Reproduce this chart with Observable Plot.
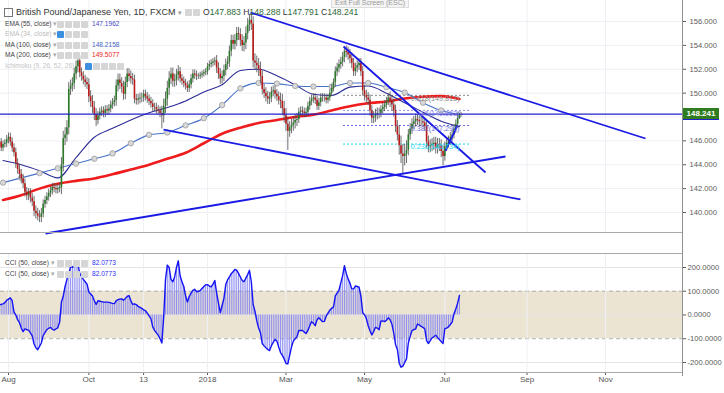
<!DOCTYPE html>
<html><head><meta charset="utf-8">
<script src="https://cdn.jsdelivr.net/npm/d3@7"></script>
<script src="https://cdn.jsdelivr.net/npm/@observablehq/plot@0.6"></script>
<style>
body{margin:0;background:#fff;font-family:"Liberation Sans",Arial,sans-serif;}
#wrap{position:relative;width:724px;height:393px;overflow:hidden;background:#fff;}
.abs{position:absolute;white-space:nowrap;}
.ic{display:inline-block;width:7px;height:7px;background:#d6d6d6;margin-right:1px;vertical-align:middle;border-radius:1px;}
.ic.b{background:#3d8fe0;}
.n{display:inline-block;width:52px;}
.v{margin-left:3px;}
</style></head><body>
<div id="wrap">
  <div id="main" class="abs" style="left:0;top:0"></div>
  <div id="cci" class="abs" style="left:0;top:253px"></div>
</div>
<script>
// ---------------- DATA ----------------
// daily closes, one per trading day starting Mon 2017-07-24 (weekly groups of 5)
const closes = [
145.6,145.9,145.4,145.7,145.8, 146.1,146.3,145.9,145.4,145.0, 144.1,143.6,143.2,142.8,142.4,
141.7,141.4,141.6,141.2,140.9, 140.1,139.9,139.7,139.6,139.9, 140.7,141.0,141.3,141.6,141.8,
142.1,142.0,141.9,142.0,142.1, 144.0,146.2,146.5,147.1,150.3, 150.6,150.8,151.6,152.2,152.7,
151.7,151.4,151.1,150.9,150.7, 149.7,149.3,148.8,148.2,147.7, 148.1,148.4,148.5,148.3,148.6,
148.5,148.7,149.0,149.2,149.4, 150.6,151.1,150.8,150.5,149.9, 150.9,151.6,151.4,151.2,151.1,
149.5,149.4,149.5,149.6,149.6, 149.9,149.7,149.5,149.3,149.1, 148.8,148.8,148.6,148.5,148.3,
148.1,148.9,149.5,150.4,151.2, 151.6,151.0,151.1,151.5,151.8, 151.2,151.0,150.8,150.6,150.4,
150.7,151.2,151.6,151.5,151.4, 151.4,151.5,151.6,151.7,151.8, 152.2,152.4,152.5,152.6,152.7,
152.1,151.6,151.2,151.4,151.9, 152.4,152.6,153.5,154.4,154.1, 154.4,155.0,154.9,154.4,154.0,
154.2,155.0,155.7,156.1,155.8, 152.7,152.5,152.3,152.0,151.4, 150.3,150.0,149.7,149.5,149.6,
150.1,150.2,149.9,149.7,149.4, 149.3,148.7,148.1,147.4,146.8, 147.1,147.3,147.5,147.7,147.8,
148.4,148.5,148.4,148.3,148.4, 148.9,149.3,149.5,149.6,149.4, 148.9,149.2,149.6,149.6,149.6,
149.4,149.6,150.0,150.4,150.9, 151.8,152.1,152.4,152.6,153.0, 153.5,153.4,153.2,152.9,152.5,
151.8,152.1,152.3,152.5,151.8, 150.2,149.8,149.6,149.4,148.5, 147.9,148.0,148.2,148.3,148.3,
148.6,148.8,149.0,149.3,149.6, 149.3,149.0,148.5,147.2,146.5, 145.6,144.9,144.7,144.9,145.2,
146.5,147.0,147.4,147.6,147.8, 147.7,147.6,147.6,147.5,147.2, 145.9,145.5,145.6,145.7,145.8,
145.4,145.7,145.6,145.1,144.7, 145.5,145.8,146.0,146.3,146.5, 147.0,147.4,147.883,148.241
];
const firstOpen = 145.5;
// typical wick length per week
const weeklyWick = [0.3,0.35,0.4,0.4,0.45,0.35,0.35,0.6,0.5,0.4,0.5,0.35,0.35,0.5,0.45,0.4,0.35,0.35,0.6,0.5,
0.35,0.35,0.25,0.3,0.45,0.45,0.5,0.55,0.6,0.45,0.4,0.6,0.5,0.35,0.35,0.35,0.3,0.4,0.45,0.4,
0.45,0.45,0.35,0.5,0.8,0.45,0.4,0.5,0.5,0.4,0.35];
// notable extreme highs / lows (bar index)
const extremeHighs = [{i:44, high:152.9}, {i:138, high:156.6}, {i:190, high:153.85}];
const extremeLows = [{i:22, low:139.3}, {i:90, low:147.0}, {i:159, low:145.2}, {i:222, low:143.2}, {i:244, low:143.9}];
const lastBar = {open:147.883, high:148.288, low:147.791, close:148.241};

// CCI(50) per trading day
const cciValues = [
40,42,45,47,52, 62,67,72,60,12, 0,-20,-32,-55,-70, -58,-62,-64,-75,-88, -122,-138,-146,-132,-118,
-86,-74,-62,-56,-52, -60,-64,-58,-54,-30, 55,80,120,150,170, 205,200,210,222,215, 175,162,150,140,130,
98,88,80,60,45, 60,58,56,54,54, 54,53,51,49,48, 60,65,67,68,62, 70,78,82,60,45,
47,44,36,32,28, 22,18,8,-4,-15, -50,-65,-75,-85,-100, -118,-9,150,210,200, 150,140,160,200,228,
165,140,120,80,55, 78,92,104,108,98, 100,103,112,120,127, 128,122,118,130,145, 92,50,10,40,70,
128,148,160,174,182, 192,188,175,160,145, 140,155,170,188,140, 45,15,-25,-55,-75, -120,-130,-138,-145,-150,
-129,-115,-103,-110,-135, -158,-170,-185,-204,-206, -170,-135,-110,-100,-92, -65,-65,-65,-72,-78, -65,-45,-28,-35,-45,
-20,-12,-20,-28,-27, -5,8,20,28,34, 80,92,104,135,165, 208,175,152,135,110, 110,122,120,117,80,
10,1,-15,-45,-66, -84,-70,-52,-55,-62, -25,-25,-28,-22,-12, -20,-38,-75,-125,-145, -203,-220,-215,-200,-185,
-118,-90,-66,-62,-59, -38,-42,-48,-52,-58, -108,-120,-108,-96,-92, -85,-95,-103,-112,-120, -57,-55,-50,-40,-30,
5,25,50,82.0773
];

// moving averages read every 10 trading days (bar 3, 13, 23, ...)
const maFirstBar = 3, maStep = 10;
const ema55 = [144.35,144.0,143.5,142.9,144.6,146.3,147.05,147.75,148.35,148.8,149.35,150.1,150.7,151.9,152.0,151.45,150.7,149.9,149.8,150.5,150.6,150.0,149.2,148.4,147.65,147.1962];
const ma100 = [142.5,142.9,143.3,143.7,144.1,144.5,144.95,145.8,146.5,146.7,147.3,147.9,149.0,150.4,150.85,150.8,150.6,150.55,150.55,150.85,150.85,150.5,150.05,149.2,148.55,148.2158];
const ma200 = [141.05,141.45,142.0,142.4,142.65,142.85,143.2,143.6,144.0,144.5,145.0,145.8,146.6,147.1,147.5,147.75,148.0,148.2,148.55,148.9,149.15,149.3,149.55,149.7,149.75,149.5077];

// drawn trend lines (bar index, price)
const trendLines = [
  {i1:138.55, p1:156.75, i2:354.9, p2:146.20},
  {i1:189.5, p1:153.91, i2:267.3, p2:143.35},
  {i1:90.9, p1:146.95, i2:286.4, p2:141.09},
  {i1:26.3, p1:138.24, i2:278.2, p2:144.69},
  {i1:245.4, p1:145.19, i2:251.9, p2:147.29}
];
const lastPrice = 148.241;
const fibStart = 189.5, fibEnd = 259, fibLabelAt = 253;
const fibs = [
  {level:"0.618", value:149.813, color:"#8a8a8a"},
  {level:"0.5", value:148.553, color:"#8f8fe8"},
  {level:"0.382", value:147.290, color:"#6a6ad8"},
  {level:"0.236", value:145.734, color:"#1ad5f2"}
];
const priceGrid = [140,142,144,146,148,150,152,154,156];
const priceLabels = [140,142,144,146,150,152,154,156];
const cciTicks = [200,100,0,-100,-200];
const monthTicks = [
  {i:6,label:"Aug"},{i:50,label:"Oct"},{i:80,label:"13"},{i:115,label:"2018"},{i:158,label:"Mar"},
  {i:201,label:"May"},{i:245,label:"Jul"},{i:290,label:"Sep"},{i:333,label:"Nov"}
];

// ---------------- BUILD ----------------
const hiMap = new Map(extremeHighs.map(d => [d.i, d.high]));
const loMap = new Map(extremeLows.map(d => [d.i, d.low]));
const bars = closes.map((c, i) => {
  if (i === closes.length - 1) return {i, ...lastBar};
  const o = i === 0 ? firstOpen : closes[i - 1];
  const w = weeklyWick[Math.floor(i / 5)];
  return {i, open:o, close:c,
    high: hiMap.has(i) ? hiMap.get(i) : Math.max(o, c) + w,
    low: loMap.has(i) ? loMap.get(i) : Math.min(o, c) - w};
});
const maPts = ema55.map((v, n) => ({i: maFirstBar + n * maStep, ema55: v, ma100: ma100[n], ma200: ma200[n]}));
const cciPts = cciValues.map((v, i) => ({i, v}));

const X0 = 1.6158, X1 = 375.17;
const font = "Liberation Sans, Arial, sans-serif";

const main = Plot.plot({
  width: 724, height: 233, marginLeft: 0, marginRight: 42, marginTop: 0, marginBottom: 0,
  style: {fontFamily: font, fontSize: "7.6px", color: "#5a5a5a", background: "transparent", overflow: "visible"},
  x: {domain: [X0, X1], axis: null},
  y: {domain: [138.24, 157.76], axis: "right", ticks: priceLabels, tickFormat: d => d.toFixed(3), tickSize: 3, tickPadding: 4, label: null},
  color: {type: "identity"},
  marks: [
    Plot.ruleY(priceGrid, {stroke: "#eef0f5"}),
    Plot.ruleX(monthTicks, {x: "i", stroke: "#eef0f5"}),
    Plot.ruleY(fibs, {y: "value", x1: () => fibStart, x2: () => fibEnd, stroke: "color", strokeDasharray: "2,2", strokeWidth: 1}),
    Plot.line(maPts, {x: "i", y: "ma200", stroke: "#ee1c1c", strokeWidth: 2.6, curve: "monotone-x", clip: true}),
    Plot.line(maPts, {x: "i", y: "ema55", stroke: "#2c2c96", strokeWidth: 1.1, curve: "monotone-x", clip: true}),
    Plot.line(maPts, {x: "i", y: "ma100", stroke: "#4672c8", strokeWidth: 1.1, curve: "monotone-x", clip: true}),
    Plot.dot(maPts, {x: "i", y: "ma100", r: 2.7, fill: "#d8d8d8", stroke: "#9a9a9a", strokeWidth: 0.8, clip: true}),
    Plot.ruleX(bars, {x: "i", y1: "low", y2: "high", stroke: "#4a4a4a", strokeWidth: 0.8, clip: true}),
    Plot.ruleX(bars, {x: "i", y1: "open", y2: "close", stroke: d => d.close >= d.open ? "#2a7a2a" : "#bb1a1a", strokeWidth: 1.6, clip: true}),
    Plot.ruleY([lastPrice], {stroke: "#2222cc", strokeWidth: 1.4}),
    Plot.link(trendLines, {x1: "i1", y1: "p1", x2: "i2", y2: "p2", stroke: "#1a1ae6", strokeWidth: 1.8}),
    Plot.text(fibs, {x: () => fibLabelAt, y: "value", text: d => `${d.level}(${d.value.toFixed(3)})`, textAnchor: "end", dy: 3, fill: "color", fontSize: 7.2})
  ]
});
document.getElementById("main").appendChild(main);

const cci = Plot.plot({
  width: 724, height: 140, marginLeft: 0, marginRight: 42, marginTop: 0, marginBottom: 21,
  style: {fontFamily: font, fontSize: "7.6px", color: "#5a5a5a", background: "transparent", overflow: "visible"},
  x: {domain: [X0, X1], axis: "bottom", ticks: monthTicks.map(d => d.i), tickFormat: () => "", tickSize: 3, label: null},
  y: {domain: [-242.1, 258.9], axis: "right", ticks: cciTicks, tickFormat: d => d.toFixed(4), tickSize: 3, tickPadding: 2, label: null},
  marks: [
    Plot.rect([0], {x1: () => X0, x2: () => X1, y1: () => -100, y2: () => 100, fill: "#ece4d3"}),
    Plot.ruleY([200, 0, -200], {stroke: "#e4e4e4"}),
    Plot.ruleY([100, -100], {stroke: "#b0b0b0", strokeDasharray: "4,3"}),
    Plot.ruleX(monthTicks, {x: "i", stroke: "#eef0f5"}),
    Plot.ruleX(cciPts, {x: "i", y1: () => 0, y2: "v", stroke: "#8585f2", strokeWidth: 0.9, clip: true}),
    Plot.line(cciPts, {x: "i", y: "v", stroke: "#1414f5", strokeWidth: 1.4, clip: true}),
    Plot.text(monthTicks, {x: "i", text: "label", frameAnchor: "bottom", dy: 9, fontSize: 8, fontWeight: d => d.label === "2018" ? "bold" : "normal", fill: "#555"})
  ]
});
document.getElementById("cci").appendChild(cci);

// ---------------- OVERLAYS ----------------
const wrap = document.getElementById("wrap");
function add(html, style) { const d = document.createElement("div"); d.className = "abs"; d.style.cssText = style; d.innerHTML = html; wrap.appendChild(d); return d; }
// panel borders
add("", "left:0;top:232px;width:682px;height:1px;background:#a9a9a9");
add("", "left:0;top:253px;width:682px;height:1px;background:#a9a9a9");
add("", "left:0;top:372px;width:682px;height:1px;background:#a9a9a9");
add("", "left:682px;top:0;width:1px;height:376px;background:#8f8f8f");
// last price tag
const yLast = main.scale("y").apply(lastPrice);
add("148.241", `left:683px;top:${yLast - 6}px;width:36px;height:11px;background:#2f7d1f;color:#fff;font-size:8px;font-weight:bold;line-height:11px;text-align:center;border-bottom:1.5px solid #2222cc`);
// tooltip
add("Exit Full Screen (ESC)", "left:331px;top:-3px;padding:1px 3px;background:#f4f4f4;border:1px solid #ddd;color:#9a9a9a;font-size:7px");
// legends
add(`<span style="display:inline-block;width:7px;height:7px;border:1px solid #777;vertical-align:middle;margin-right:3px"></span><span style="color:#333">British Pound/Japanese Yen, 1D, FXCM</span> <span style="color:#999;font-size:7px">▾</span> <span class="ic"></span><span class="ic"></span>`,
  "left:4px;top:6px;font-size:9px;line-height:12px");
add(`O<span style="color:#2f6a37">147.883</span> H<span style="color:#2f6a37">148.288</span> L<span style="color:#2f6a37">147.791</span> C<span style="color:#2f6a37">148.241</span>`,
  "left:203px;top:6px;font-size:8.6px;line-height:12px;color:#333");
const icons4 = `<span class="ic"></span><span class="ic"></span><span class="ic"></span><span class="ic"></span>`;
function row(top, name, value, vcolor, ncolor, iconsHtml) {
  add(`<span class="n" style="color:${ncolor}">${name} <span style="color:#aaa">▾</span></span>${iconsHtml}<span class="v" style="color:${vcolor}">${value}</span>`,
    `left:5px;top:${top}px;font-size:6.6px;line-height:9px`);
}
row(19, "EMA (55, close)", "147.1962", "#4b4bc4", "#444", icons4);
row(29, "EMA (34, close)", "", "#aaa", "#bbb", `<span class="ic b"></span><span class="ic"></span><span class="ic"></span><span class="ic"></span>`);
row(40, "MA (100, close)", "148.2158", "#4468c4", "#444", icons4);
row(50, "MA (200, close)", "149.5077", "#f02020", "#444", icons4);
add(`<span style="color:#c4c4c4;display:inline-block;width:80px">Ichimoku (9, 26, 52, 26)</span><span class="ic b"></span><span class="ic"></span><span class="ic"></span><span class="ic"></span><span class="ic"></span>`,
  "left:5px;top:61px;font-size:6.6px;line-height:9px");
row(258, "CCI (50, close)", "82.0773", "#2d2df0", "#444", icons4);
row(269, "CCI (50, close)", "82.0773", "#2d2df0", "#444", icons4);
</script>
</body></html>
